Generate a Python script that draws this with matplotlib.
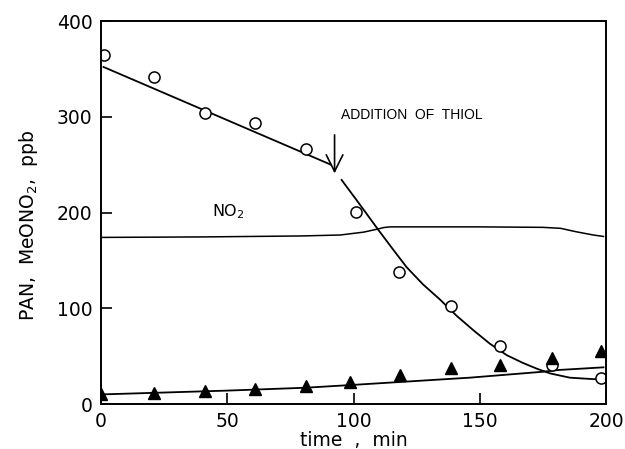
import numpy as np
import matplotlib.pyplot as plt

plt.rcParams['font.family'] = ['DejaVu Sans']

# PAN measurements (open circles)
pan_t = [1, 21, 41, 61, 81, 101, 118, 138.5, 158, 178.5, 198]
pan_c = [364, 342, 304, 294, 266, 201, 138, 102, 61, 41, 27]

# MeONO2 measurements (filled triangles)
me_t = [0, 21, 41, 61, 81, 98.5, 118.5, 138.5, 158, 178.5, 198]
me_c = [10, 12, 13.5, 15.5, 18.5, 23, 30, 37.5, 40.5, 48, 55]

# fitted curves
fit1_t = [1, 91]
fit1_c = [352, 250]
fit2_t = [95.3, 102.6, 109.8, 115.5, 121, 127.5, 134.3, 140.9, 147.5, 154, 160.7,
          167, 172.5, 177.8, 185.7, 194.9, 198]
fit2_c = [234, 208, 182, 162, 143, 125, 109, 92, 77, 63, 51, 43, 37, 32, 27.5,
          26, 25.5]
me_fit_t = [0, 50, 81, 100, 146, 175, 181, 199]
me_fit_c = [10, 14, 17, 20, 27.5, 33.7, 35.5, 38.3]

# NO2 trace
no2_t = [0, 40, 79, 94.7, 104, 109.2, 112, 114.5, 150, 175, 182, 188, 195, 199]
no2_c = [174, 174.5, 175.5, 176.5, 179.5, 182.5, 184.3, 185, 185, 184.5, 183.5,
         180, 176.5, 175]

fig = plt.figure(figsize=(6.25, 4.49), dpi=100)
ax = fig.add_axes([0.1616, 0.1002, 0.808, 0.853])

ax.plot(no2_t, no2_c, color='black', lw=1.1)
ax.plot(fit1_t, fit1_c, color='black', lw=1.3)
ax.plot(fit2_t, fit2_c, color='black', lw=1.3)
ax.plot(me_fit_t, me_fit_c, color='black', lw=1.3)
ax.plot(pan_t, pan_c, 'o', ms=8, mfc='white', mec='black', mew=1.1)
ax.plot(me_t, me_c, '^', ms=8, color='black')

ax.annotate('', xy=(92.5, 238), xytext=(92.5, 284),
            arrowprops=dict(arrowstyle='->,head_length=0.5,head_width=0.25',
                            color='black', lw=1.2, mutation_scale=24))
ax.text(95, 302, 'ADDITION  OF  THIOL', fontsize=10, va='center',
        family='Liberation Sans')
ax.text(44, 201, 'NO$_2$', fontsize=11.5, va='center')

ax.set_xlim(0, 200)
ax.set_ylim(0, 400)
ax.set_xticks([0, 50, 100, 150, 200])
ax.set_yticks([0, 100, 200, 300, 400])
ax.tick_params(direction='in', length=8, width=1.2, labelsize=13.5, pad=6)
for s in ax.spines.values():
    s.set_linewidth(1.4)

ax.set_xlabel('time  ,  min', fontsize=13.5, labelpad=0)
ax.set_ylabel('PAN,  MeONO$_2$,  ppb', fontsize=13.5)
ax.yaxis.set_label_coords(-0.12, 0.465)

fig.savefig('out.png', dpi=100)
